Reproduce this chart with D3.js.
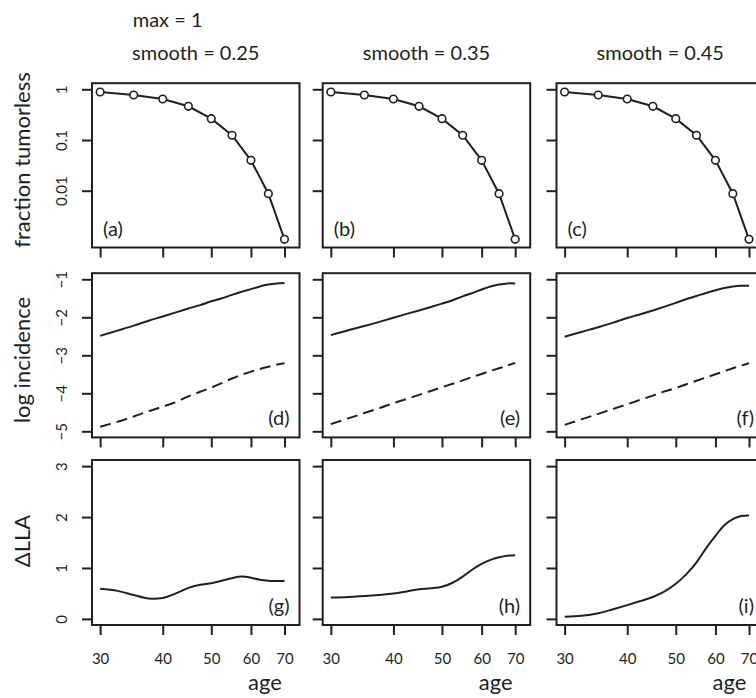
<!DOCTYPE html>
<html>
<head>
<meta charset="utf-8">
<script src="https://cdn.jsdelivr.net/npm/d3@7"></script>
<style>
  body { margin: 0; background: #fff; }
  svg { display: block; }
</style>
</head>
<body>
<svg id="chart" width="756" height="698"></svg>
<script>
// observed fraction tumorless (same data in every column)
var obsAges = [30, 35, 40, 45, 50, 55, 60, 65, 70];
var tumorless = [0.885, 0.772, 0.644, 0.462, 0.263, 0.124, 0.0398, 0.00873, 0.0011];

// ages for the fitted curves
var fitAges = [30, 32.5, 35, 37.5, 40, 42.5, 45, 47.5, 50, 52.5, 55, 57.5, 60, 62.5, 65, 67.5, 70];

// log incidence, solid and dashed, panels d e f
var incSolidD = [-2.49, -2.35, -2.22, -2.09, -1.98, -1.87, -1.77, -1.68, -1.58, -1.50, -1.41, -1.33, -1.26, -1.19, -1.14, -1.11, -1.10];
var incSolidE = [-2.47, -2.34, -2.23, -2.12, -2.01, -1.91, -1.82, -1.73, -1.64, -1.55, -1.45, -1.36, -1.27, -1.19, -1.14, -1.11, -1.11];
var incSolidF = [-2.51, -2.38, -2.26, -2.14, -2.02, -1.92, -1.82, -1.72, -1.62, -1.52, -1.44, -1.36, -1.29, -1.23, -1.19, -1.17, -1.17];
var incDashD = [-4.88, -4.75, -4.61, -4.47, -4.35, -4.23, -4.08, -3.96, -3.85, -3.73, -3.61, -3.51, -3.43, -3.36, -3.30, -3.25, -3.21];
var incDashE = [-4.81, -4.66, -4.52, -4.39, -4.26, -4.15, -4.04, -3.94, -3.84, -3.75, -3.66, -3.57, -3.49, -3.41, -3.34, -3.27, -3.20];
var incDashF = [-4.83, -4.68, -4.54, -4.41, -4.29, -4.17, -4.06, -3.95, -3.86, -3.76, -3.67, -3.58, -3.50, -3.42, -3.34, -3.27, -3.21];

// delta LLA, panels g h i
var llaG = [0.59, 0.55, 0.47, 0.40, 0.41, 0.50, 0.61, 0.67, 0.70, 0.75, 0.80, 0.83, 0.81, 0.77, 0.75, 0.745, 0.745];
var llaH = [0.42, 0.43, 0.45, 0.47, 0.50, 0.54, 0.58, 0.60, 0.63, 0.71, 0.83, 0.97, 1.08, 1.16, 1.21, 1.24, 1.25];
var llaI = [0.04, 0.06, 0.11, 0.19, 0.27, 0.35, 0.43, 0.54, 0.69, 0.88, 1.11, 1.39, 1.63, 1.84, 1.96, 2.02, 2.03];

var smoothLabels = ['smooth = 0.25', 'smooth = 0.35', 'smooth = 0.45'];
var panelLetters = [['(a)', '(b)', '(c)'], ['(d)', '(e)', '(f)'], ['(g)', '(h)', '(i)']];
var rowTitles = ['fraction tumorless', 'log incidence', '\u0394LLA'];
var ageTicks = [30, 40, 50, 60, 70];
var survTicks = [1, 0.1, 0.01];
var survTickLabels = ['1', '0.1', '0.01'];
var incTicks = [-5, -4, -3, -2, -1];
var llaTicks = [0, 1, 2, 3];

var FONT = 'Lato, "Open Sans", sans-serif';
var INK = '#231f20';
var svg = d3.select('#chart');

var colLeft = [92, 322.7, 556.5];
var boxW = 207.5;
var rowTop = [83.2, 273.2, 460];
var rowBot = [247.5, 437.4, 625];

var solid = [incSolidD, incSolidE, incSolidF];
var dashed = [incDashD, incDashE, incDashF];
var lla = [llaG, llaH, llaI];

function yScale(r) {
  if (r == 0) return d3.scaleLog().domain([Math.pow(10, -3.12), Math.pow(10, 0.12)]).range([rowBot[r], rowTop[r]]);
  if (r == 1) return d3.scaleLinear().domain([-5.16, -0.84]).range([rowBot[r], rowTop[r]]);
  return d3.scaleLinear().domain([-0.12, 3.12]).range([rowBot[r], rowTop[r]]);
}

// top titles
svg.append('text').attr('x', 132.7).attr('y', 26.5)
  .attr('font-family', FONT).attr('font-size', 20).attr('fill', INK).text('max = 1');

for (var c = 0; c < 3; c++) {
  var x = d3.scaleLog().domain([28.9, 75]).range([colLeft[c], colLeft[c] + boxW]);
  svg.append('text')
    .attr('x', colLeft[c] + boxW / 2).attr('y', 60)
    .attr('text-anchor', 'middle')
    .attr('font-family', FONT).attr('font-size', 20).attr('fill', INK)
    .text(smoothLabels[c]);

  for (var r = 0; r < 3; r++) {
    var y = yScale(r);
    var g = svg.append('g');

    // x ticks
    var xa = g.append('g').attr('transform', 'translate(0,' + rowBot[r] + ')')
      .call(d3.axisBottom(x).tickValues(ageTicks).tickSize(10).tickSizeOuter(0)
        .tickFormat(r == 2 ? d3.format('d') : ''));
    // y ticks
    var yTickVals = r == 0 ? survTicks : (r == 1 ? incTicks : llaTicks);
    var ya = g.append('g').attr('transform', 'translate(' + colLeft[c] + ',0)')
      .call(d3.axisLeft(y).tickValues(yTickVals).tickSize(10).tickSizeOuter(0)
        .tickFormat(c == 0 ? function (d, i) {
          if (r == 0) return survTickLabels[i];
          return d < 0 ? '\u2212' + Math.abs(d) : d;
        } : ''));

    [xa, ya].forEach(function (a) {
      a.select('.domain').remove();
      a.selectAll('.tick line').attr('stroke', INK).attr('stroke-width', 2);
      a.selectAll('.tick text').attr('font-family', FONT).attr('font-size', 15).attr('fill', INK);
    });
    xa.selectAll('.tick text').attr('y', 39).attr('dy', 0);
    ya.selectAll('.tick text').attr('transform', 'rotate(-90)')
      .attr('x', 0).attr('y', -25).attr('dy', 0).attr('text-anchor', 'middle');

    // curves
    if (r == 0) {
      var pts = obsAges.map(function (a, i) { return [a, tumorless[i]]; });
      g.append('path').datum(pts)
        .attr('fill', 'none').attr('stroke', INK).attr('stroke-width', 2)
        .attr('d', d3.line().x(function (d) { return x(d[0]); }).y(function (d) { return y(d[1]); }));
      g.selectAll('circle').data(pts).enter().append('circle')
        .attr('cx', function (d) { return x(d[0]); })
        .attr('cy', function (d) { return y(d[1]); })
        .attr('r', 3.8).attr('fill', '#fff').attr('stroke', INK).attr('stroke-width', 1.6);
    } else {
      var series = r == 1 ? [[solid[c], null], [dashed[c], '11,6']] : [[lla[c], null]];
      series.forEach(function (s) {
        var pts = fitAges.map(function (a, i) { return [a, s[0][i]]; });
        g.append('path').datum(pts)
          .attr('fill', 'none').attr('stroke', INK).attr('stroke-width', 2)
          .attr('stroke-dasharray', s[1])
          .attr('d', d3.line().curve(d3.curveCatmullRom.alpha(0.5))
            .x(function (d) { return x(d[0]); }).y(function (d) { return y(d[1]); }));
      });
    }

    // box
    g.append('rect')
      .attr('x', colLeft[c]).attr('y', rowTop[r])
      .attr('width', boxW).attr('height', rowBot[r] - rowTop[r])
      .attr('fill', 'none').attr('stroke', INK).attr('stroke-width', 2);

    // panel letter
    var baseY = [236, 425, 613][r];
    g.append('text')
      .attr('x', r == 0 ? colLeft[c] + 11 : colLeft[c] + boxW - 10)
      .attr('y', baseY)
      .attr('text-anchor', r == 0 ? 'start' : 'end')
      .attr('font-family', FONT).attr('font-size', 20).attr('fill', INK)
      .text(panelLetters[r][c]);
  }

  // x axis title
  svg.append('text')
    .attr('x', colLeft[c] + 173).attr('y', 690)
    .attr('text-anchor', 'middle')
    .attr('font-family', FONT).attr('font-size', 22).attr('fill', INK)
    .text('age');
}

// row titles
var titleY = [160, 360, 541];
rowTitles.forEach(function (t, r) {
  svg.append('text')
    .attr('transform', 'translate(30,' + titleY[r] + ') rotate(-90)')
    .attr('text-anchor', 'middle')
    .attr('font-family', FONT).attr('font-size', 22).attr('fill', INK)
    .text(t);
});
</script>
</body>
</html>
